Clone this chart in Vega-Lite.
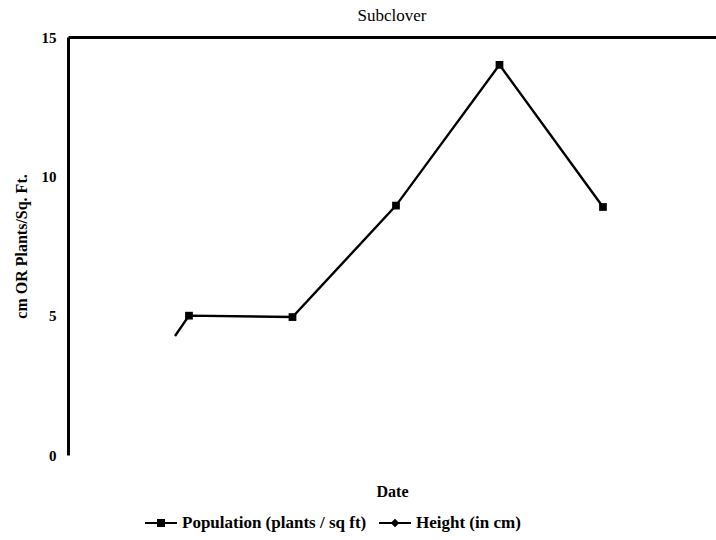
{
  "$schema": "https://vega.github.io/schema/vega-lite/v6.json",
  "width": 648,
  "height": 418,
  "autosize": {"type": "none"},
  "padding": {"left": 68, "top": 37, "right": 0, "bottom": 85},
  "background": "white",
  "title": {
    "text": "Subclover",
    "font": "Liberation Serif",
    "fontSize": 17,
    "fontWeight": "normal",
    "color": "black",
    "anchor": "middle",
    "baseline": "bottom",
    "offset": -12
  },
  "config": {
    "view": {"stroke": null},
    "axis": {"grid": false}
  },
  "data": {
    "values": [
      {"date_index": 0.865, "value": 4.27, "series": "Population (plants / sq ft)"},
      {"date_index": 1, "value": 5.0, "series": "Population (plants / sq ft)"},
      {"date_index": 2, "value": 4.95, "series": "Population (plants / sq ft)"},
      {"date_index": 3, "value": 8.95, "series": "Population (plants / sq ft)"},
      {"date_index": 4, "value": 14.0, "series": "Population (plants / sq ft)"},
      {"date_index": 5, "value": 8.9, "series": "Population (plants / sq ft)"}
    ]
  },
  "resolve": {"axis": {"x": "independent"}},
  "layer": [
    {
      "mark": {"type": "line", "color": "black", "strokeWidth": 2.4},
      "encoding": {
        "x": {
          "field": "date_index",
          "type": "quantitative",
          "scale": {"domain": [-0.169, 6.092], "nice": false, "zero": false},
          "axis": {
            "orient": "top",
            "domain": true,
            "domainColor": "black",
            "domainWidth": 3,
            "labels": false,
            "ticks": false,
            "title": null,
            "grid": false,
            "minExtent": 0,
            "maxExtent": 0
          }
        },
        "y": {
          "field": "value",
          "type": "quantitative",
          "scale": {"domain": [0, 15], "nice": false},
          "axis": {
            "values": [0, 5, 10, 15],
            "domain": true,
            "domainColor": "black",
            "domainWidth": 3,
            "ticks": false,
            "grid": false,
            "labelFont": "Liberation Serif",
            "labelFontSize": 15,
            "labelFontWeight": "bold",
            "labelColor": "black",
            "labelPadding": 12,
            "title": "cm OR Plants/Sq. Ft.",
            "titleFont": "Liberation Serif",
            "titleFontSize": 16,
            "titleFontWeight": "bold",
            "titleColor": "black",
            "titlePadding": 12
          }
        },
        "detail": {"field": "series"}
      }
    },
    {
      "transform": [{"filter": "datum.date_index >= 1"}],
      "mark": {"type": "point", "filled": true, "color": "black", "size": 60, "opacity": 1, "shape": "square"},
      "encoding": {
        "x": {
          "field": "date_index",
          "type": "quantitative",
          "axis": {
            "orient": "bottom",
            "domain": false,
            "labels": false,
            "ticks": false,
            "grid": false,
            "title": "Date",
            "titleFont": "Liberation Serif",
            "titleFontSize": 16,
            "titleFontWeight": "bold",
            "titleColor": "black",
            "titlePadding": 28
          }
        },
        "y": {"field": "value", "type": "quantitative"}
      }
    },
    {
      "transform": [{"filter": "datum.date_index > 100"}],
      "mark": {"type": "point", "filled": true, "color": "black", "opacity": 1},
      "encoding": {
        "shape": {
          "field": "series",
          "type": "nominal",
          "scale": {
            "domain": ["Population (plants / sq ft)", "Height (in cm)"],
            "range": [
              "M-1,-0.07H1V0.07H-1Z M-0.25,-0.25H0.25V0.25H-0.25Z",
              "M-1,-0.07H1V0.07H-1Z M0,-0.27L0.27,0L0,0.27L-0.27,0Z"
            ]
          },
          "legend": {
            "orient": "none",
            "legendX": 77,
            "legendY": 470,
            "direction": "horizontal",
            "title": null,
            "labelFont": "Liberation Serif",
            "labelFontSize": 17,
            "labelFontWeight": "bold",
            "labelColor": "black",
            "labelLimit": 400,
            "labelOffset": 5,
            "columnPadding": 12,
            "symbolSize": 1024,
            "symbolFillColor": "black",
            "symbolStrokeColor": "black",
            "symbolStrokeWidth": 0,
            "symbolOpacity": 1
          }
        }
      }
    }
  ]
}
